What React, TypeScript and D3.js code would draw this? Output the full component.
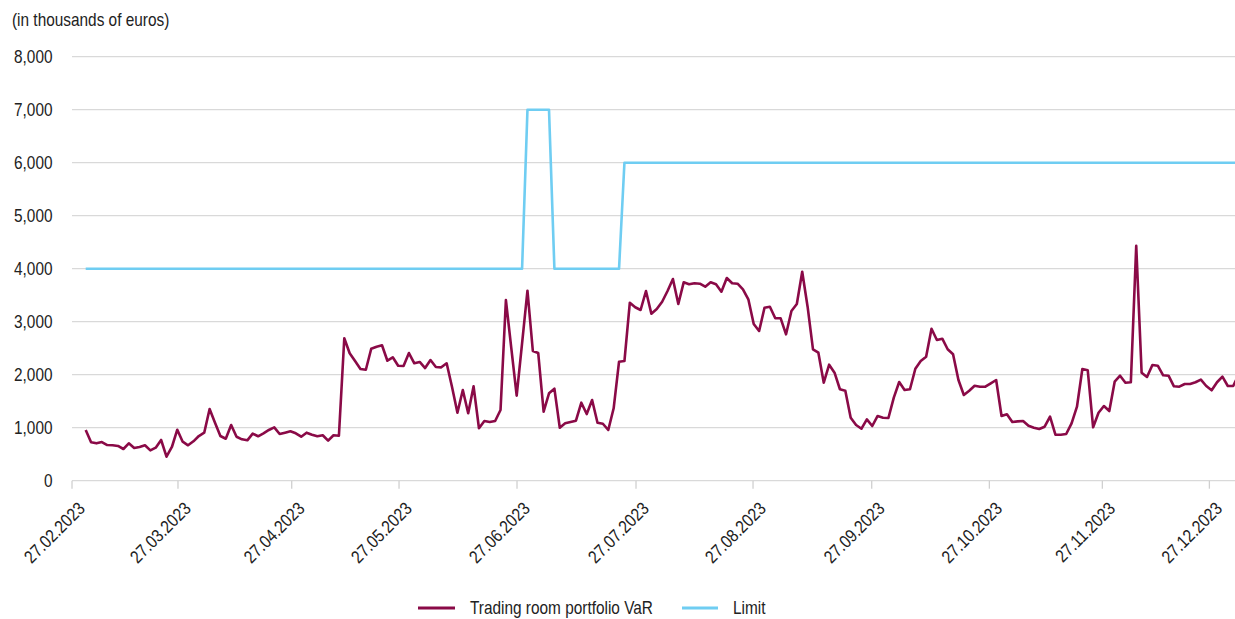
import React from "react";
import * as d3 from "d3";

// Trading room portfolio VaR (thousands of euros), one value per trading day
const varValues: number[] = [
  957, 724, 705, 730, 673, 670, 655, 598, 705, 617,
  636, 668, 573, 623, 768, 453, 636, 962, 736, 668,
  743, 843, 906, 1353, 1094, 843, 792, 1051, 830, 781,
  762, 887, 838, 894, 957, 1007, 881, 906, 932, 894,
  830, 906, 868, 838, 857, 755, 857, 849, 2687, 2404,
  2258, 2108, 2094, 2490, 2528, 2555, 2264, 2328, 2170, 2164,
  2409, 2215, 2240, 2126, 2277, 2145, 2139, 2215, 1768, 1283,
  1711, 1272, 1781, 989, 1126, 1107, 1126, 1334, 3409, 2500,
  1604, 2590, 3585, 2447, 2409, 1302, 1649, 1736, 1000, 1083,
  1107, 1132, 1472, 1258, 1523, 1094, 1075, 957, 1366, 2245,
  2258, 3358, 3272, 3221, 3579, 3151, 3240, 3377, 3579, 3806,
  3334, 3743, 3706, 3725, 3717, 3660, 3743, 3706, 3566, 3825,
  3725, 3717, 3611, 3423, 2957, 2825, 3264, 3283, 3064, 3064,
  2762, 3202, 3334, 3943, 3283, 2479, 2415, 1849, 2189, 2038,
  1725, 1698, 1189, 1051, 981, 1158, 1032, 1221, 1189, 1183,
  1566, 1862, 1711, 1725, 2113, 2258, 2340, 2868, 2655, 2679,
  2480, 2385, 1900, 1617, 1698, 1792, 1774, 1774, 1838, 1900,
  1221, 1253, 1107, 1120, 1126, 1038, 1000, 975, 1019, 1208,
  868, 868, 881, 1083, 1396, 2108, 2083, 1008, 1283, 1409,
  1315, 1868, 1981, 1849, 1857, 4434, 2038, 1957, 2183, 2170,
  1989, 1981, 1781, 1774, 1825, 1825, 1857, 1906, 1787, 1706,
  1857, 1962, 1787, 1787, 2000,
];

// Limit: vertices [trading-day index, value]
const limitIndex: number[] = [0, 81, 82, 86, 87, 99, 100, 214];
const limitValues: number[] = [4000, 4000, 7000, 7000, 4000, 4000, 6000, 6000];

// X tick labels and their (fractional) trading-day positions
const tickLabels: string[] = [
  "27.02.2023", "27.03.2023", "27.04.2023", "27.05.2023", "27.06.2023", "27.07.2023",
  "27.08.2023", "27.09.2023", "27.10.2023", "27.11.2023", "27.12.2023",
];
const tickIndex: number[] = [-2.54, 17.13, 38.24, 58.16, 80.06, 102.15, 123.87, 145.9, 167.74, 188.71, 208.58];

const yTicks: number[] = [0, 1000, 2000, 3000, 4000, 5000, 6000, 7000, 8000];

const seriesNames = ["Trading room portfolio VaR", "Limit"];
const colors = ["#8a0a47", "#6fcdf2"];

const W = 1235;
const H = 619;
const FONT = "'Liberation Sans', Arial, sans-serif";
const SX = 0.855; // horizontal condensing to mimic the narrow typeface

function NText(props: {
  x: number;
  y: number;
  rotate?: number;
  anchor?: "start" | "end" | "middle";
  dy?: string;
  children: React.ReactNode;
}) {
  const { x, y, rotate = 0, anchor = "start", dy, children } = props;
  return (
    <text
      transform={`translate(${x},${y}) rotate(${rotate}) scale(${SX},1)`}
      textAnchor={anchor}
      dy={dy}
      fontSize={18}
      fill="#222"
    >
      {children}
    </text>
  );
}

export default function App() {
  const x = d3.scaleLinear().domain([0, 213]).range([85.7, 1233.2]);
  const y = d3.scaleLinear().domain([0, 8000]).range([480.7, 56.7]);
  const fmt = d3.format(",");

  const varLine = d3
    .line<number>()
    .x((_, i) => x(i))
    .y((d) => y(d))(varValues) as string;

  const limitLine = d3
    .line<number>()
    .x((_, i) => x(limitIndex[i]))
    .y((d) => y(d))(limitValues) as string;

  const left = x(tickIndex[0]);

  return (
    <svg
      width={W}
      height={H}
      style={{ position: "absolute", left: 0, top: 0, display: "block", background: "#fff" }}
      fontFamily={FONT}
    >
      <NText x={12} y={26}>(in thousands of euros)</NText>
      {yTicks.map((t) => (
        <g key={t}>
          <line x1={left} x2={W} y1={y(t)} y2={y(t)} stroke="#d9d9d9" strokeWidth={1.3} />
          <NText x={52.5} y={y(t)} dy="0.35em" anchor="end">
            {fmt(t)}
          </NText>
        </g>
      ))}
      {tickIndex.map((ti, k) => (
        <g key={k}>
          <line x1={x(ti)} x2={x(ti)} y1={y(0)} y2={y(0) + 8} stroke="#d0d0d0" strokeWidth={1.3} />
          <NText x={x(ti) + 14} y={y(0) + 29} rotate={-45} anchor="end">
            {tickLabels[k]}
          </NText>
        </g>
      ))}
      <path d={limitLine} fill="none" stroke={colors[1]} strokeWidth={2.6} strokeLinejoin="round" />
      <path d={varLine} fill="none" stroke={colors[0]} strokeWidth={2.6} strokeLinejoin="round" />
      <g>
        <line x1={418} x2={455} y1={608} y2={608} stroke={colors[0]} strokeWidth={3} />
        <NText x={470} y={608} dy="0.35em">
          {seriesNames[0]}
        </NText>
        <line x1={682} x2={718} y1={608} y2={608} stroke={colors[1]} strokeWidth={3} />
        <NText x={733} y={608} dy="0.35em">
          {seriesNames[1]}
        </NText>
      </g>
    </svg>
  );
}
